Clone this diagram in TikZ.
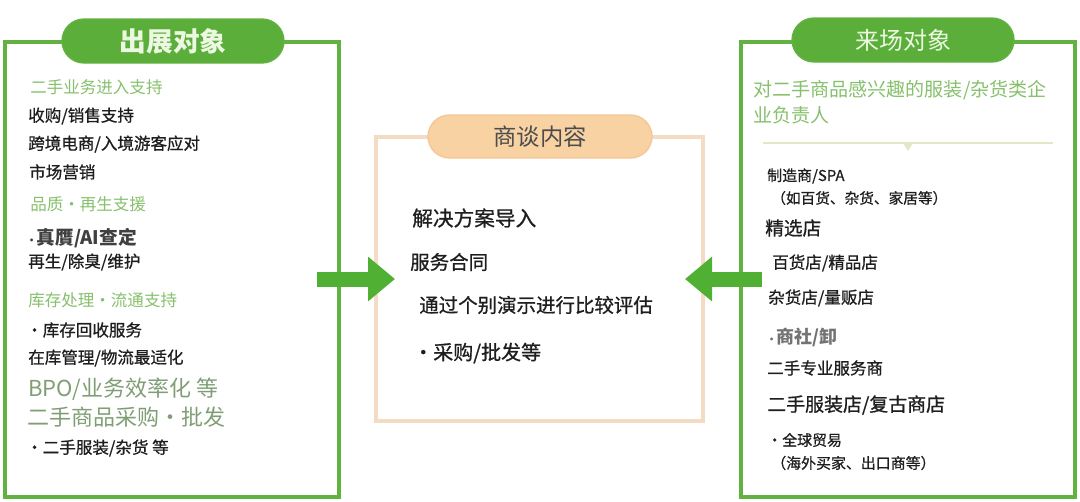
\documentclass[tikz,border=0pt]{standalone}
\usepackage{fontspec}
\newfontfamily\cjk{Noto Sans CJK SC}
\newfontfamily\cjkm[FakeBold=0.8]{Noto Sans CJK SC}
\usetikzlibrary{shapes.misc,arrows.meta}
\definecolor{gborder}{RGB}{98,178,66}
\definecolor{gpill}{RGB}{92,174,58}
\definecolor{gpilltext}{RGB}{236,248,226}
\definecolor{ghead}{RGB}{134,192,108}
\definecolor{gbpo}{RGB}{128,158,118}
\definecolor{garrow}{RGB}{80,176,52}
\definecolor{oborder}{RGB}{244,220,196}
\definecolor{opill}{RGB}{249,210,164}
\definecolor{opillb}{RGB}{244,198,148}
\definecolor{txt}{RGB}{30,30,30}
\definecolor{gline}{RGB}{226,232,196}
\tikzset{
  bigbox/.style={draw=gborder, line width=2.4pt, minimum width=250.5pt, minimum height=341.25pt, inner sep=0},
  midbox/.style={draw=oborder, line width=2.4pt, minimum width=245.25pt, minimum height=213pt, inner sep=0},
  gpillbox/.style={rounded rectangle, fill=gpill, draw=gborder, line width=1pt, minimum width=166.5pt, minimum height=33pt, inner sep=0, text=gpilltext},
  opillbox/.style={rounded rectangle, fill=opill, draw=opillb, line width=1pt, minimum width=168pt, minimum height=32.25pt, inner sep=0, text=black!70},
  tx/.style={anchor=west, inner sep=0, text=txt, font=\cjkm\fontsize{12.4}{14}\selectfont},
  hd/.style={tx, text=ghead, font=\cjk\fontsize{12.4}{14}\selectfont},
  bpo/.style={tx, text=gbpo, font=\cjk\fontsize{16.5}{18}\selectfont},
  mid/.style={tx, font=\cjkm\fontsize{14.6}{17}\selectfont},
  bigarrow/.style={draw=garrow, line width=11.25pt, -{Triangle[width=32.25pt 0 0, length=20.25pt 0 0]}},
}
\begin{document}
\begin{tikzpicture}[x=0.75pt,y=-0.75pt]
\useasboundingbox (0,0) rectangle (1080,501);
% boxes
\node[bigbox] (L) at (172,269.5) {};
\node[bigbox] (R) at (908,269.5) {};
\node[midbox] (M) at (539.5,279) {};
% pills
\node[gpillbox, font=\cjk\bfseries\fontsize{20}{22}\selectfont] (Lt) at (173,41) {出展对象};
\node[gpillbox, font=\cjk\fontsize{18}{20}\selectfont] (Rt) at (903,40) {来场对象};
\node[opillbox, font=\cjk\fontsize{17.5}{20}\selectfont] (Mt) at (540,136.5) {商谈内容};
% left texts
\node[hd] (l1) at (30,87) {二手业务进入支持};
\node[tx] (l2) at (28,116) {收购/销售支持};
\node[tx] (l3) at (28,144) {跨境电商/入境游客应对};
\node[tx] (l4) at (29,172) {市场营销};
\node[hd] (l5) at (30,204) {品质・再生支援};
\node[tx, text=black!75, font=\cjk\bfseries\fontsize{14}{16}\selectfont] (l6) at (26,238) {{\fontsize{8}{8}\selectfont ·}真贋/AI查定};
\node[tx] (l7) at (28,262) {再生/除臭/维护};
\node[hd] (l8) at (28,300) {库存处理・流通支持};
\node[tx] (l9) at (26,330) {・库存回收服务};
\node[tx] (l10) at (28,358) {在库管理/物流最适化};
\node[bpo] (l11) at (28,389) {BPO/业务效率化 等};
\node[bpo] (l12) at (27,417) {二手商品采购・批发};
\node[tx] (l13) at (26,448) {・二手服装/杂货 等};
% center texts
\node[mid, font=\cjkm\fontsize{15.5}{18}\selectfont] (m1) at (412,218) {解决方案导入};
\node[mid] (m2) at (410,262) {服务合同};
\node[mid] (m3) at (419,305) {通过个别演示进行比较评估};
\node[mid, font=\cjkm\fontsize{15}{18}\selectfont] (m4) at (413,353) {・采购/批发等};
% right texts
\node[tx, text=ghead, font=\cjk\fontsize{14.3}{17}\selectfont] (r1) at (753,90) {对二手商品感兴趣的服装/杂货类企};
\node[tx, text=ghead, font=\cjk\fontsize{14.3}{17}\selectfont] (r2) at (753,115) {业负责人};
\coordinate (hl1) at (763,143);
\coordinate (hl2) at (1053,143);
\coordinate (tri) at (908,143);
\draw[gline, line width=1.8pt] (hl1) -- (hl2);
\fill[gline] (tri) ++(-5,0) -- ++(10,0) -- ++(-5,8) -- cycle;
\node[tx, font=\cjkm\fontsize{11.2}{13}\selectfont] (r3) at (767,176) {制造商/SPA};
\node[tx, font=\cjkm\fontsize{11}{13}\selectfont] (r4) at (771,198) {（如百货、杂货、家居等）};
\node[tx, font=\cjkm\fontsize{14}{16}\selectfont] (r5) at (765,228) {精选店};
\node[tx] (r6) at (772,263) {百货店/精品店};
\node[tx] (r7) at (768,298) {杂货店/量贩店};
\node[tx, text=black!55, font=\cjk\bfseries\fontsize{13.5}{16}\selectfont] (r8) at (766,337) {{\fontsize{8}{8}\selectfont ·}商社/卸};
\node[tx] (r9) at (767,368) {二手专业服务商};
\node[tx, font=\cjkm\fontsize{14.2}{16}\selectfont] (r10) at (767,405) {二手服装店/复古商店};
\node[tx, font=\cjkm\fontsize{11.2}{13}\selectfont] (r11) at (767,440) {・全球贸易};
\node[tx, font=\cjkm\fontsize{11.2}{13}\selectfont] (r12) at (771,463) {（海外买家、出口商等）};
% arrows
\coordinate (a1s) at (317,279);
\coordinate (a1e) at (395,279);
\coordinate (a2s) at (762,279);
\coordinate (a2e) at (685,279);
\draw[bigarrow] (a1s) -- (a1e);
\draw[bigarrow] (a2s) -- (a2e);
\end{tikzpicture}
\end{document}
